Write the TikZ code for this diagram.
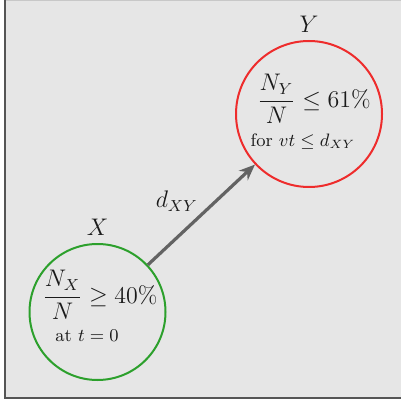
\documentclass[tikz,border=0pt]{standalone}
\usepackage{amsmath}
\usetikzlibrary{arrows.meta, positioning}
\definecolor{ink}{HTML}{1A1A1A}
\definecolor{panel}{HTML}{E6E6E6}
\definecolor{frame}{HTML}{555555}
\definecolor{frametop}{HTML}{C8C8C8}
\definecolor{srcgreen}{HTML}{2CA02C}
\definecolor{dstred}{HTML}{EE2C2C}
\definecolor{arrowgray}{HTML}{636363}
\tikzset{
  font=\large,
  >={Stealth[length=8pt, width=6.5pt]},
  %
  site/.style={circle, draw, line width=1pt, text=ink, label distance=1pt},
  siteg/.style={site, draw=srcgreen, minimum size=68pt},
  siter/.style={site, draw=dstred, minimum size=73pt},
  %
  share/.style={text=ink, inner sep=1pt},
  cond/.style={font=\small, text=ink, inner sep=1pt},
  hop/.style={draw=arrowgray, fill=arrowgray, line width=1.6pt, ->},
  lbl/.style={text=ink, inner sep=1pt},
}

\begin{document}
\begin{tikzpicture}[x=0.5pt, y=-0.5pt]

  \useasboundingbox (0,0) rectangle (401,405);
  \fill[white] (0,0) rectangle (401,405);
  \fill[panel] (5,0) rectangle (401,398);
  \draw[frametop, line width=0.6pt] (5,0.6) -- (401,0.6);
  \draw[frame, line width=1pt] (5,0) -- (5,398) -- (401,398);

  % the two sites
  \node[siteg, label={[text=ink]above:$X$}] (X) at (97.5,312) {};
  \node[siter, label={[text=ink]above:$Y$}] (Y) at (309,114) {};

  \node[share] (xfrac) at (100,295) {$\dfrac{N_X}{N} \geq 40\%$};
  \node[cond]  (xcond) at (87,336) {at $t=0$};

  \node[share] (yfrac) at (314,99) {$\dfrac{N_Y}{N} \leq 61\%$};
  \node[cond]  (ycond) at (303,142) {for $vt \leq d_{XY}$};

  \draw[hop] (X) -- node[lbl, midway, above left] {$d_{XY}$} (Y);

\end{tikzpicture}
\end{document}
